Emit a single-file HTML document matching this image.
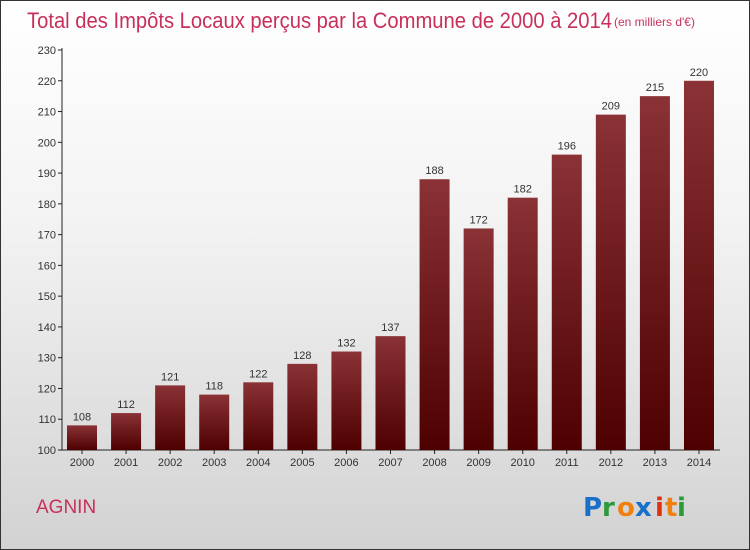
<!DOCTYPE html>
<html><head><meta charset="utf-8"><style>
html,body{margin:0;padding:0}
body{width:750px;height:550px;overflow:hidden;font-family:"Liberation Sans",sans-serif}
#frame{position:absolute;left:0;top:0;width:748px;height:548px;border:1px solid #333;background:linear-gradient(#ffffff 0%,#f3f3f3 40%,#d2d2d2 100%)}
</style></head><body>
<div id="frame">
<svg width="750" height="550" style="position:absolute;left:-1px;top:-1px">
<defs><linearGradient id="bg" x1="0" y1="0" x2="0" y2="1"><stop offset="0" stop-color="#8a3236"/><stop offset="1" stop-color="#4e0000"/></linearGradient></defs>
<text x="27" y="28" font-size="22" fill="#c8305a" font-family="Liberation Sans, sans-serif" textLength="585" lengthAdjust="spacingAndGlyphs">Total des Impôts Locaux perçus par la Commune de 2000 à 2014</text>
<text x="614" y="26" font-size="12" fill="#c8305a">(en milliers d'€)</text>
<g id="axes"></g><g id="bars"></g>
<text x="36" y="513" font-size="19" fill="#c8305a">AGNIN</text>
<g font-size="26" font-family="DejaVu Sans, sans-serif" font-weight="bold">
<text x="583" y="516" fill="#1a6fc8">P</text><text x="602" y="516" fill="#2a9a3a">r</text><text x="617" y="516" fill="#f08010">o</text><text x="635" y="516" fill="#1a6fc8">x</text><text x="655" y="516" fill="#e03010">i</text><text x="665" y="516" fill="#f08010">t</text><text x="677" y="516" fill="#2a9a3a">i</text>
</g>
</svg></div>
<script>
const years=["2000","2001","2002","2003","2004","2005","2006","2007","2008","2009","2010","2011","2012","2013","2014"];
const values=[108,112,121,118,122,128,132,137,188,172,182,196,209,215,220];
const ticks=[100,110,120,130,140,150,160,170,180,190,200,210,220,230];
const NS="http://www.w3.org/2000/svg";
const y=v=>450-(v-100)*400/130;
const x=i=>82+i*44.07;
function mk(t,a,p){const e=document.createElementNS(NS,t);for(const k in a)e.setAttribute(k,a[k]);p.appendChild(e);return e;}
const ax=document.getElementById('axes'),bg=document.getElementById('bars');
const yl=mk('line',{x1:62,y1:48,x2:62,y2:450,stroke:'#222'},ax);


const xl=mk('line',{x1:62,y1:450,x2:720,y2:450,stroke:'#222'},ax);


ticks.forEach(t=>{mk('line',{x1:58,x2:62,y1:y(t),y2:y(t),stroke:'#222'},ax);
const tx=mk('text',{x:56,y:y(t)+4,'font-size':11,fill:'#333','text-anchor':'end'},ax);tx.textContent=t;

});
years.forEach((yr,i)=>{const cx=x(i);
mk('line',{x1:cx,x2:cx,y1:450,y2:454,stroke:'#222'},ax);
const lb=mk('text',{x:cx,y:466,'font-size':11,fill:'#333','text-anchor':'middle'},ax);lb.textContent=yr;


const r=mk('rect',{x:cx-15,y:y(values[i]),width:30,height:450-y(values[i]),fill:'url(#bg)'},bg);


const v=mk('text',{x:cx,y:y(values[i])-5,'font-size':11,fill:'#333','text-anchor':'middle'},bg);v.textContent=values[i];

});
</script>
</body></html>
